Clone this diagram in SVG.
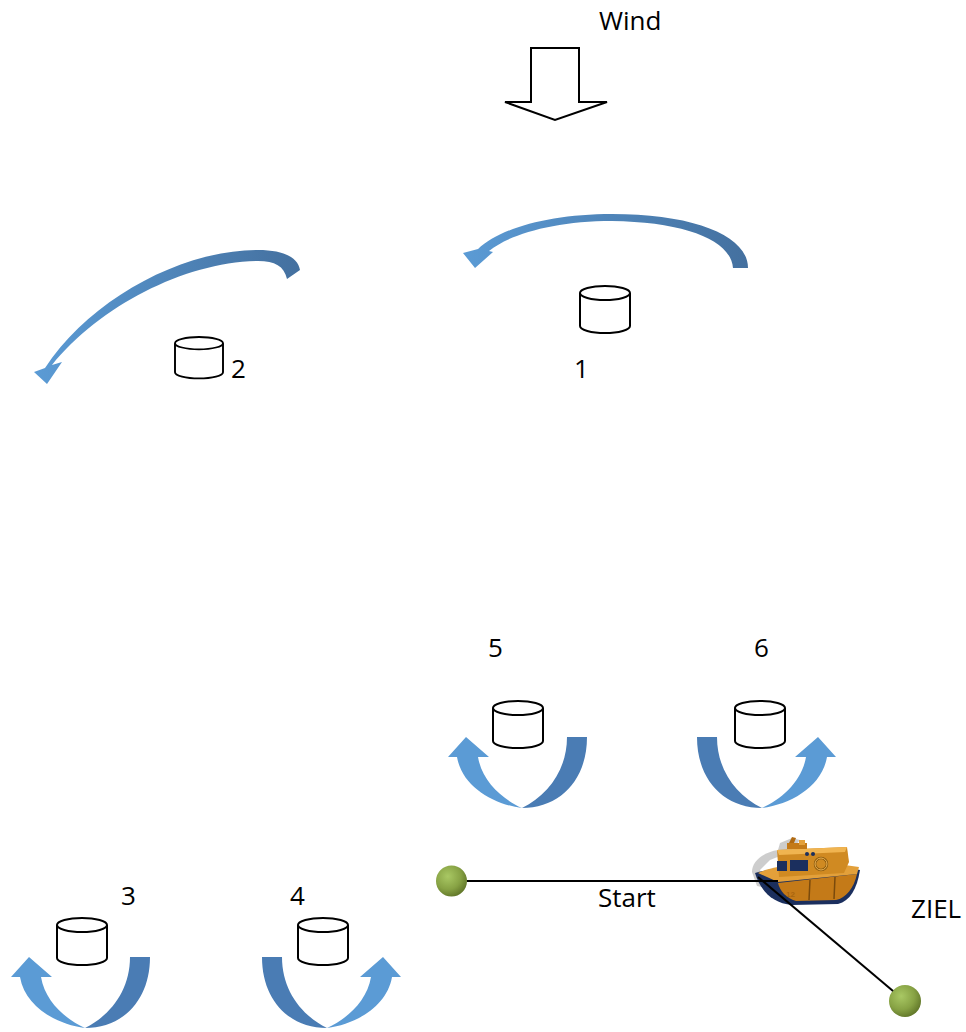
<svg xmlns="http://www.w3.org/2000/svg" xmlns:xlink="http://www.w3.org/1999/xlink" width="966" height="1032" viewBox="0 0 966 1032">
  <style>
    .lbl { font-family: "Open Sans", "Liberation Sans", sans-serif; font-size: 26px; fill: #000; }
    .cyl { fill: #fff; stroke: #000; stroke-width: 2; }
    .dark { fill: #4a7cb4; }
    .light { fill: #5b9bd5; }
    .line { stroke: #000; stroke-width: 2; fill: none; }
  </style>
  <defs>
    <linearGradient id="sweep" x1="0" y1="0" x2="1" y2="0">
      <stop offset="0" stop-color="#5b9bd5"/>
      <stop offset="1" stop-color="#44709f"/>
    </linearGradient>
    <radialGradient id="ball" cx="0.38" cy="0.35" r="0.7">
      <stop offset="0" stop-color="#a9c864"/>
      <stop offset="0.6" stop-color="#87a244"/>
      <stop offset="1" stop-color="#5f7428"/>
    </radialGradient>
    <!-- buoy: cylinder 50 x 47 -->
    <g id="cyl">
      <path class="cyl" d="M0,7 V40 A25,7 0 0 0 50,40 V7"/>
      <ellipse class="cyl" cx="25" cy="7" rx="25" ry="7"/>
    </g>
    <!-- U-turn arrow, origin at the bottom point, head on the left -->
    <g id="uturn">
      <path class="dark" d="M45,-71 L65,-71 C65,-28 38,0 0,0 C26,-13 45,-38 45,-71 Z"/>
      <path class="light" d="M0,0 C-30,-4 -60,-22 -65,-51 L-74,-51 L-56,-71 L-33,-51 L-44,-51 C-40,-27 -20,-9 0,0 Z"/>
    </g>
  </defs>
  <rect width="966" height="1032" fill="#fff"/>

  <g id="wind">
    <polygon points="531,48 579,48 579,102 607,102 555,120 505,102 531,102" fill="#fff" stroke="#000" stroke-width="2"/>
    <text class="lbl" x="599" y="30">Wind</text>
  </g>

  <g id="buoy-1">
    <path fill="url(#sweep)" d="M748,268 L733,268 C731,240 685,222 612,221 C555,221 510,234 489,251 L493,252 L475,268 L463,253 L478,249 C500,228 550,214 612,214 C695,214 748,236 748,268 Z"/>
    <use xlink:href="#cyl" x="580" y="286"/>
    <text class="lbl" x="574" y="378">1</text>
  </g>

  <g id="buoy-2">
    <path fill="url(#sweep)" d="M45,368 C90,300 180,250 258,250 C285,250 298,258 300,270 L287,279 C284,266 275,261 258,261 C185,262 100,306 52,365 L62,362 L47,384 L34,372 Z"/>
    <g transform="translate(175,337) scale(0.96,0.88)">
      <use xlink:href="#cyl"/>
    </g>
    <text class="lbl" x="231" y="378">2</text>
  </g>

  <g id="buoy-5">
    <use xlink:href="#uturn" transform="translate(522,808)"/>
    <use xlink:href="#cyl" x="493" y="701"/>
    <text class="lbl" x="488" y="657">5</text>
  </g>

  <g id="buoy-6">
    <use xlink:href="#uturn" transform="translate(762,808) scale(-1,1)"/>
    <use xlink:href="#cyl" x="735" y="701"/>
    <text class="lbl" x="754" y="657">6</text>
  </g>

  <g id="buoy-3">
    <use xlink:href="#uturn" transform="translate(85,1028)"/>
    <use xlink:href="#cyl" x="57" y="918"/>
    <text class="lbl" x="121" y="905">3</text>
  </g>

  <g id="buoy-4">
    <use xlink:href="#uturn" transform="translate(327,1028) scale(-1,1)"/>
    <use xlink:href="#cyl" x="298" y="918"/>
    <text class="lbl" x="290" y="905">4</text>
  </g>

  <g id="start-mark">
    <circle cx="451.5" cy="881" r="15.5" fill="url(#ball)"/>
    <text class="lbl" x="598" y="907">Start</text>
  </g>

  <g id="finish-mark">
    <circle cx="905" cy="1001" r="16" fill="url(#ball)"/>
    <text class="lbl" x="911" y="918">ZIEL</text>
  </g>

  <g id="boat">
    <!-- soft shadow -->
    <path d="M752,872 C752,860 765,852 778,850 L780,843 L792,838 L800,840 L790,852 L770,860 L760,870 L766,888 L757,886 Z" fill="#b8b8b8" opacity="0.7"/>
    <!-- hull -->
    <path d="M755,873 C760,890 772,903 792,905 L838,904 C850,901 857,889 860,870 L838,866 C810,864 780,866 755,873 Z" fill="#1b2f5e"/>
    <path d="M778,883 L857,874 C854,888 846,898 836,900 L796,901 C786,898 780,891 778,883 Z" fill="#c47a18"/>
    <path d="M810,880 L809,900 M835,877 L834,899" stroke="#7a4a0c" stroke-width="1.5"/>
    <text x="786" y="897" font-family="Liberation Sans, sans-serif" font-size="8" font-weight="bold" fill="#a86510">12</text>
    <!-- deck -->
    <path d="M758,873 C772,866 800,863 830,863 L859,867 L857,874 L778,882 Z" fill="#e3a03a"/>
    <!-- cabin -->
    <path d="M777,850 L847,847 L849,862 L844,873 L779,877 Z" fill="#d08a22"/>
    <path d="M777,850 L847,847 L845,852 L779,855 Z" fill="#f0b450"/>
    <rect x="777" y="861" width="10" height="10" fill="#1b2f5e"/>
    <rect x="790" y="860" width="18" height="11" fill="#1b2f5e"/>
    <circle cx="821" cy="864" r="6" fill="none" stroke="#8a5a10" stroke-width="2.5"/>
    <circle cx="821" cy="864" r="6" fill="none" stroke="#f0b450" stroke-width="1"/>
    <circle cx="807" cy="854" r="2" fill="#1b2f5e"/>
    <circle cx="813" cy="854" r="2" fill="#1b2f5e"/>
    <!-- wheelhouse top -->
    <rect x="787" y="843" width="20" height="6" fill="#c47a18"/>
    <rect x="799" y="840" width="6" height="5" fill="#e3a03a"/>
    <path d="M789,843 L792,837 L796,838 L794,843 Z" fill="#b06a12"/>
  </g>

  <g id="connectors">
    <line class="line" x1="467" y1="881" x2="778" y2="881"/>
    <line class="line" x1="758" y1="877" x2="893" y2="991"/>
  </g>
</svg>
